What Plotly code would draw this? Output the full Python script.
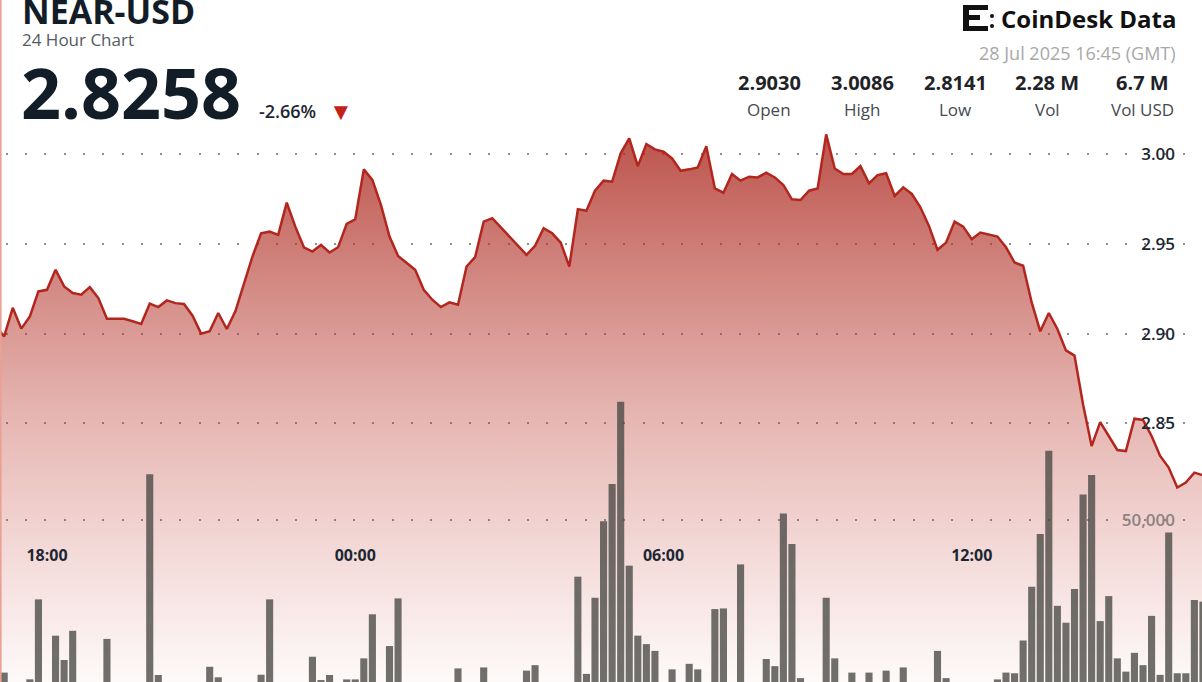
import plotly.graph_objects as go
import pandas as pd

# ---------------- data ----------------
START = "2025-07-27 17:00"
STEP = "10min"

prices = [
    2.9040, 2.8985, 2.9144, 2.9028, 2.9096, 2.9235, 2.9244, 2.9356, 2.9263, 2.9226,
    2.9217, 2.9259, 2.9198, 2.9083, 2.9083, 2.9083, 2.9069, 2.9054, 2.9167, 2.9148,
    2.9185, 2.9170, 2.9165, 2.9100, 2.9000, 2.9013, 2.9115, 2.9026, 2.9124, 2.9280,
    2.9430, 2.9559, 2.9568, 2.9550, 2.9730, 2.9596, 2.9481, 2.9457, 2.9494, 2.9452,
    2.9481, 2.9611, 2.9637, 2.9915, 2.9856, 2.9717, 2.9541, 2.9433, 2.9395, 2.9356,
    2.9244, 2.9189, 2.9148, 2.9174, 2.9161, 2.9374, 2.9426, 2.9624, 2.9643, 2.9593,
    2.9541, 2.9489, 2.9439, 2.9489, 2.9587, 2.9559, 2.9507, 2.9374, 2.9693, 2.9685,
    2.9796, 2.9852, 2.9846, 3.0004, 3.0087, 2.9933, 3.0056, 3.0026, 3.0013, 2.9976,
    2.9907, 2.9915, 2.9926, 3.0044, 2.9809, 2.9785, 2.9889, 2.9852, 2.9874, 2.9870,
    2.9896, 2.9870, 2.9828, 2.9748, 2.9744, 2.9796, 2.9809, 3.0110, 2.9920, 2.9889,
    2.9889, 2.9933, 2.9837, 2.9883, 2.9893, 2.9767, 2.9815, 2.9778, 2.9704, 2.9600,
    2.9467, 2.9507, 2.9624, 2.9596, 2.9526, 2.9563, 2.9550, 2.9541, 2.9481, 2.9396,
    2.9378, 2.9174, 2.9013, 2.9115, 2.9026, 2.8907, 2.8878, 2.8606, 2.8374, 2.8507,
    2.8430, 2.8352, 2.8346, 2.8526, 2.8519, 2.8430, 2.8319, 2.8254, 2.8143, 2.8171,
    2.8226, 2.8211, 2.8258,
]

volumes = [
    0, 2900, 0, 0, 830, 25500, 0, 14300, 6800, 15800,
    0, 0, 0, 13300, 0, 0, 0, 0, 64100, 2160,
    0, 0, 0, 0, 0, 4700, 1450, 0, 0, 0,
    0, 2250, 25500, 0, 0, 0, 0, 7800, 600, 2160,
    0, 800, 800, 7300, 20900, 0, 11100, 25800, 0, 0,
    0, 0, 0, 0, 4200, 0, 0, 4500, 0, 0,
    0, 0, 3500, 5200, 0, 0, 0, 0, 32500, 2500,
    26000, 49600, 61100, 86500, 35900, 14300, 11700, 9600, 0, 3900,
    0, 5600, 3900, 0, 22500, 22700, 0, 36300, 0, 0,
    7100, 4900, 52000, 42600, 1200, 0, 0, 26000, 7300, 0,
    2900, 0, 2900, 0, 3500, 0, 4500, 0, 0, 0,
    9600, 1200, 0, 0, 0, 0, 0, 800, 2900, 2700,
    12800, 29400, 45700, 71400, 23500, 18300, 28700, 57900, 63900, 18800,
    26500, 7300, 3200, 9000, 5200, 20400, 2200, 46100, 2700, 2700,
    25300, 24800, 0,
]

x_tick_vals = ["2025-07-27 18:00", "2025-07-28 00:00", "2025-07-28 06:00", "2025-07-28 12:00"]
x_range = ["2025-07-27 17:05:07", "2025-07-28 16:28:54"]
price_ticks = [2.85, 2.90, 2.95, 3.00]
price_range = [2.7060, 3.0162]
vol_ticks = [50000]
vol_range = [0, 171900]

title = "NEAR-USD"
subtitle = "24 Hour Chart"
last_price = "2.8258"
change = "-2.66%"
stamp = "28 Jul 2025 16:45 (GMT)"
stat_values = ["2.9030", "3.0086", "2.8141", "2.28 M", "6.7 M"]
stat_labels = ["Open", "High", "Low", "Vol", "Vol USD"]

times = pd.date_range(START, periods=len(prices), freq=STEP)

# ---------------- layout helpers ----------------
W, H = 1202, 682
MT, MB = 125, 0
PH = H - MT - MB
FONT = "Open Sans"


def px(x):
    return x / W


def py(y):
    return (H - MB - y) / PH


fig = go.Figure()

fig.add_trace(go.Scatter(
    x=times, y=prices, mode="lines",
    line=dict(color="#b3261e", width=2.5),
    fill="tozeroy",
    fillgradient=dict(
        type="vertical",
        colorscale=[[0, "rgba(200,70,60,0.03)"], [0.5, "rgba(185,55,45,0.38)"], [1, "rgba(170,40,30,0.80)"]],
        start=price_range[0], stop=3.011,
    ),
    hoverinfo="skip",
))

fig.add_trace(go.Bar(
    x=times, y=volumes, yaxis="y2",
    marker=dict(color="rgba(72,72,68,0.78)", line=dict(width=0)),
    hoverinfo="skip",
))

grid_dash = "0px,5.7px,2px,11.6px"

fig.update_layout(
    width=W, height=H,
    margin=dict(l=0, r=0, t=MT, b=MB, pad=0),
    paper_bgcolor="white", plot_bgcolor="white",
    showlegend=False, bargap=0.17,
    font=dict(family=FONT),
    xaxis=dict(
        type="date", range=x_range,
        tickvals=x_tick_vals, tickformat="%H:%M",
        showgrid=False, zeroline=False, showline=False, ticks="",
        anchor="free", position=py(544),
        tickfont=dict(family=FONT, size=16, color="#1d2733", weight=700),
    ),
    yaxis=dict(
        range=price_range, side="right",
        tickvals=price_ticks, ticktext=[f"{v:.2f}" for v in price_ticks],
        ticklabelposition="inside", ticklabelstandoff=24,
        showgrid=True, gridcolor="#8f8f8f", gridwidth=1.6, griddash=grid_dash,
        zeroline=False, showline=False, ticks="",
        tickfont=dict(family=FONT, size=17, color="#1d2733", weight=600),
    ),
    yaxis2=dict(
        range=vol_range, side="right", overlaying="y",
        tickvals=vol_ticks, ticktext=[f"{v:,}" for v in vol_ticks],
        ticklabelposition="inside", ticklabelstandoff=24,
        showgrid=True, gridcolor="#8f8f8f", gridwidth=1.6, griddash=grid_dash,
        zeroline=False, showline=False, ticks="",
        tickfont=dict(family=FONT, size=17, color="#8d8282", weight=600),
    ),
)

ann = []


def add(text, x, y, size, color, weight=400, xanchor="left"):
    ann.append(dict(text=text, x=px(x), y=py(y), xref="paper", yref="paper",
                    xanchor=xanchor, yanchor="middle", showarrow=False,
                    font=dict(family=FONT, size=size, color=color, weight=weight)))


add(title, 20, 11, 34, "#131d28", 700)
add(subtitle, 20, 39, 17, "#555b60")
add(last_price, 19, 92, 70, "#131d28", 700)
add(change, 257, 111, 18, "#1d2733", 600)
add("▼", 341, 110, 24, "#c42118", 400, "center")
add("CoinDesk Data", 1178, 18, 24, "#111111", 700, "right")
add(stamp, 1178, 53, 18, "#a8a8a8", 400, "right")

stat_x = [769, 862, 955, 1047, 1142]
for sx, v, lab in zip(stat_x, stat_values, stat_labels):
    add(v, sx, 82, 20, "#1f2328", 700, "center")
    add(lab, sx, 109, 17, "#454a50", 400, "center")

fig.update_layout(annotations=ann)

shapes = []
# left edge accent line
shapes.append(dict(type="line", xref="paper", yref="paper", x0=px(0.8), x1=px(0.8),
                   y0=py(H), y1=py(0), line=dict(color="#eaa092", width=1.6)))
# logo icon (decorative)
for (x0, y0, x1, y1) in [(963, 5, 969, 31), (963, 5, 988, 10), (963, 26, 988, 31), (969, 15, 980, 20)]:
    shapes.append(dict(type="rect", xref="paper", yref="paper", x0=px(x0), x1=px(x1),
                       y0=py(y1), y1=py(y0), fillcolor="#111111", line=dict(width=0)))
for cy in (16, 26):
    shapes.append(dict(type="circle", xref="paper", yref="paper", x0=px(990), x1=px(994),
                       y0=py(cy + 2), y1=py(cy - 2), fillcolor="#111111", line=dict(width=0)))
fig.update_layout(shapes=shapes)

fig.write_html("out.html", config={"displayModeBar": False},
               post_script="document.body.style.margin='0';")
